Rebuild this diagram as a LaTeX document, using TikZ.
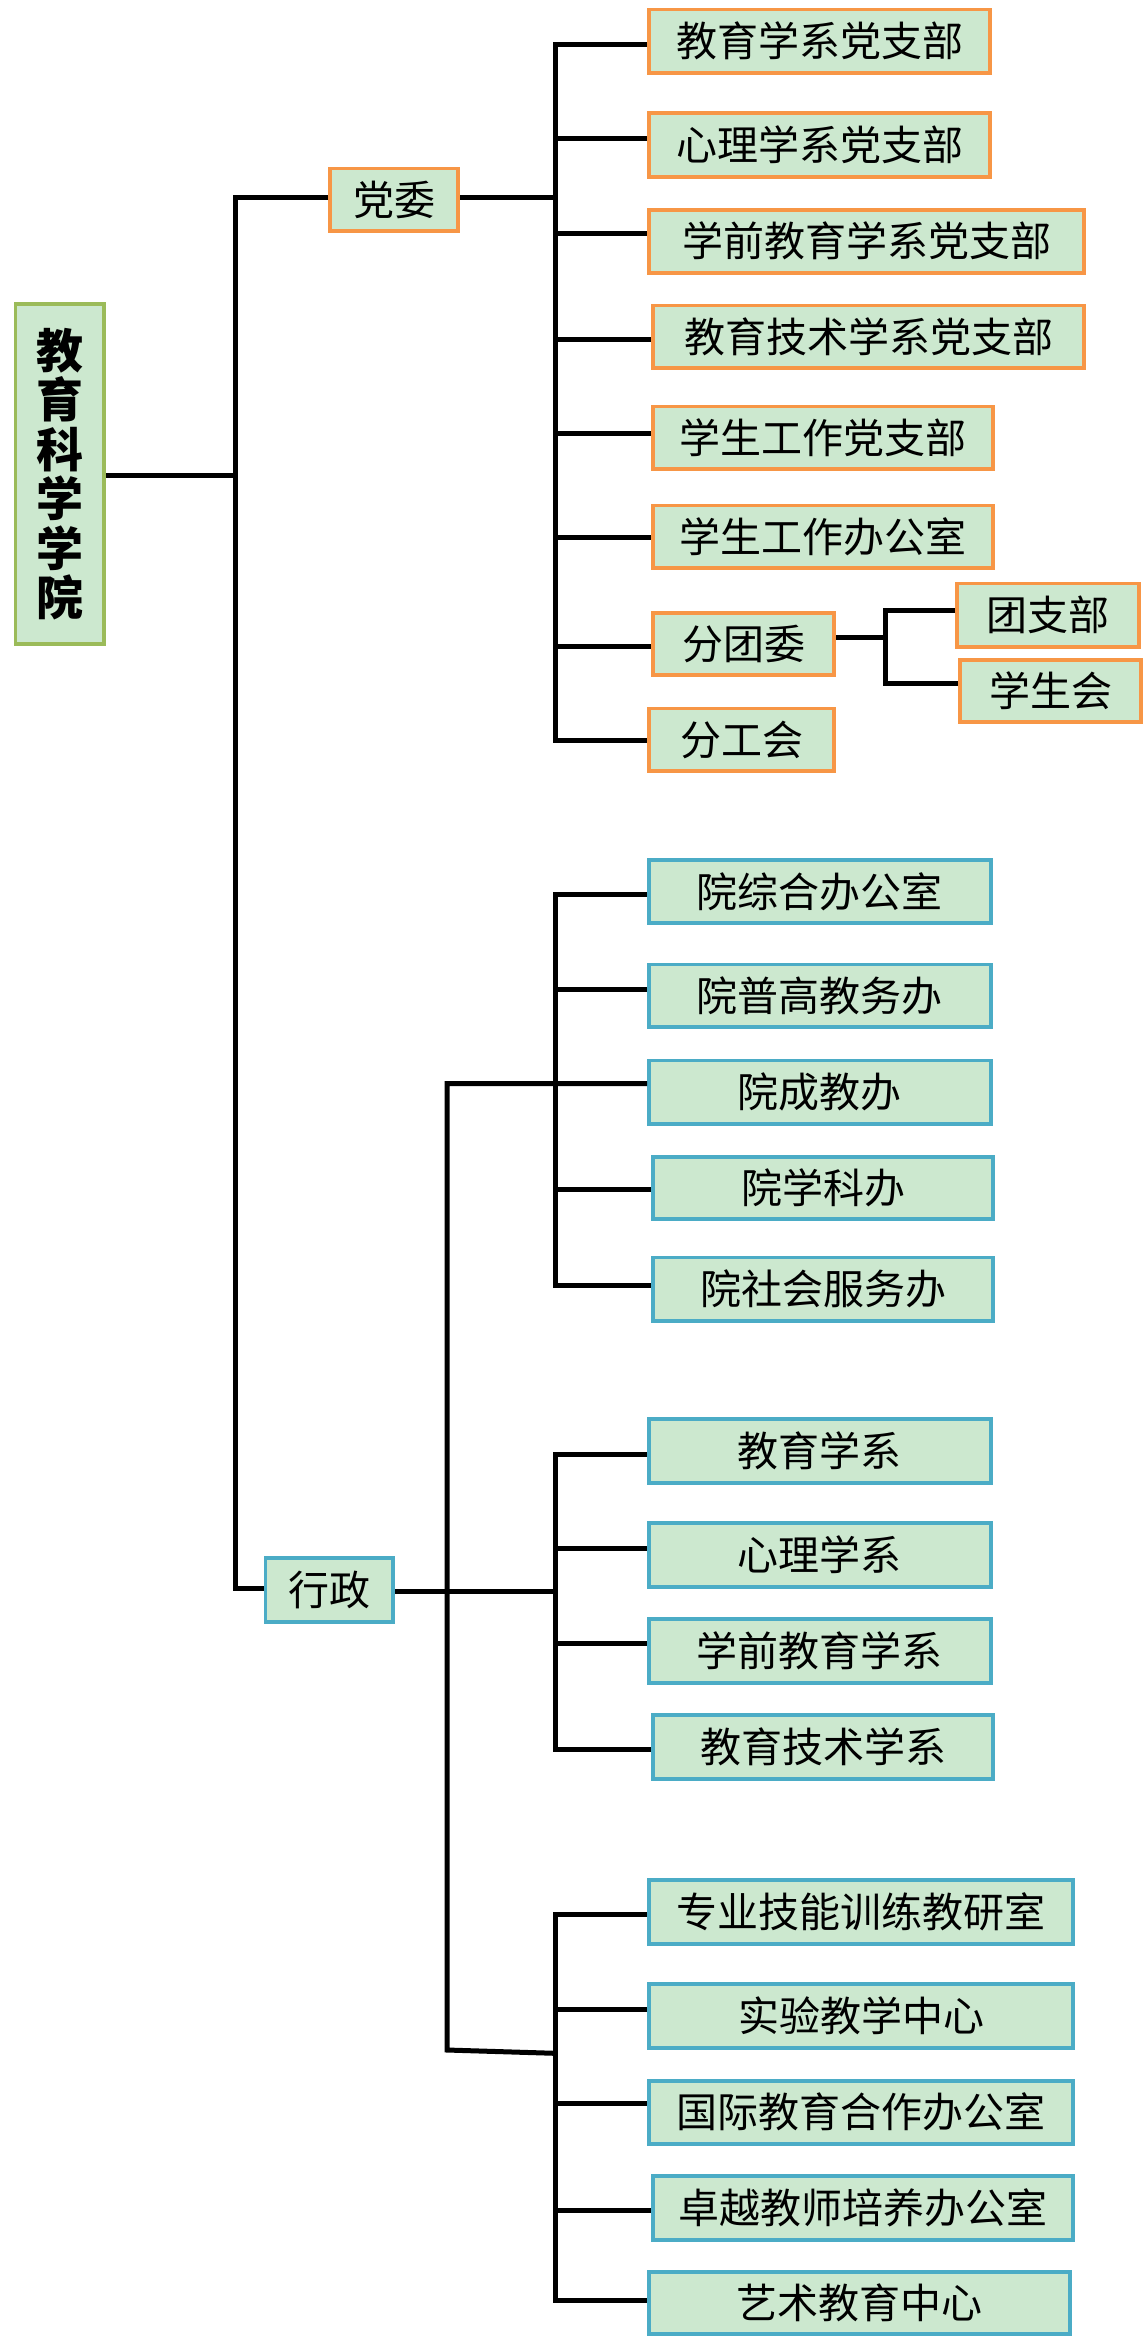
\documentclass[tikz,border=0pt]{standalone}
\usepackage{fontspec}
\newfontfamily\cjk{Noto Sans CJK SC}
\definecolor{boxfill}{RGB}{204,232,207}
\definecolor{orangeb}{RGB}{247,150,70}
\definecolor{blueb}{RGB}{75,172,198}
\definecolor{greenb}{RGB}{155,187,89}
\newcommand\orgbox[7]{\node[#2, minimum width={(#5-#3-3.8)*1pt}, minimum height={(#6-#4-3.8)*1pt}] (#1) at ({(#3+#5)/2},{(#4+#6)/2}) {#7};}
\begin{document}
\begin{tikzpicture}[x=1pt,y=-1pt,
  box/.style={fill=boxfill, inner sep=0pt, text=black, font=\cjk\fontsize{41}{41}\selectfont},
  pbox/.style={box, draw=orangeb, line width=3.8pt},
  abox/.style={box, draw=blueb, line width=3.8pt},
  rbox/.style={box, draw=greenb, line width=3.4pt, align=center, font=\cjk\bfseries\fontsize{47}{49.5}\selectfont},
  conn/.style={draw=black, line width=5pt}]
\useasboundingbox (0,0) rectangle (1144,2350);
% nodes
\orgbox{root}{rbox}{13.5}{302}{106}{646}{教\\育\\科\\学\\学\\院}
\orgbox{dw}{pbox}{328}{166.5}{460}{232.6}{党委}
\orgbox{p1}{pbox}{647}{7.6}{992}{74.5}{教育学系党支部}
\orgbox{p2}{pbox}{647}{111}{992}{178.6}{心理学系党支部}
\orgbox{p3}{pbox}{647}{208}{1086}{274.5}{学前教育学系党支部}
\orgbox{p4}{pbox}{651}{303.6}{1086}{370}{教育技术学系党支部}
\orgbox{p5}{pbox}{651}{404.6}{995}{471}{学生工作党支部}
\orgbox{p6}{pbox}{651}{503.6}{995}{570}{学生工作办公室}
\orgbox{p7}{pbox}{651}{610.7}{836}{676.5}{分团委}
\orgbox{p8}{pbox}{647}{706.6}{836}{773}{分工会}
\orgbox{s1}{pbox}{955}{581.6}{1141}{648.5}{团支部}
\orgbox{s2}{pbox}{958}{658}{1143}{723.5}{学生会}
\orgbox{xz}{abox}{263.5}{1555.7}{395}{1624}{行政}
\orgbox{a1}{abox}{647}{858}{992.5}{925}{院综合办公室}
\orgbox{a2}{abox}{647}{962.5}{992.5}{1029}{院普高教务办}
\orgbox{a3}{abox}{647}{1058.6}{992.5}{1125.7}{院成教办}
\orgbox{a4}{abox}{651}{1154.8}{995}{1221}{院学科办}
\orgbox{a5}{abox}{651}{1255.5}{995}{1323}{院社会服务办}
\orgbox{b1}{abox}{647}{1417}{992.5}{1485}{教育学系}
\orgbox{b2}{abox}{647}{1521.3}{992.5}{1589}{心理学系}
\orgbox{b3}{abox}{647}{1617}{992.5}{1684.7}{学前教育学系}
\orgbox{b4}{abox}{651}{1713}{995}{1781}{教育技术学系}
\orgbox{c1}{abox}{647}{1878.3}{1075}{1946}{专业技能训练教研室}
\orgbox{c2}{abox}{647}{1982.3}{1075}{2050}{实验教学中心}
\orgbox{c3}{abox}{647}{2078.7}{1075}{2145.7}{国际教育合作办公室}
\orgbox{c4}{abox}{651}{2174.3}{1075}{2241.7}{卓越教师培养办公室}
\orgbox{c5}{abox}{647}{2269.7}{1071.5}{2335.7}{艺术教育中心}
% coordinates
\coordinate (mt) at (235,0);
\coordinate (mtop) at (235,197);
\coordinate (mbot) at (235,1588.3);
\coordinate (pa1) at (555,44);
\coordinate (pa2) at (555,138);
\coordinate (pa3) at (555,233.6);
\coordinate (pa4) at (555,339);
\coordinate (pa5) at (555,433.7);
\coordinate (pa6) at (555,537);
\coordinate (pa7) at (555,646);
\coordinate (pa8) at (555,740);
\coordinate (pdw) at (555,197);
\coordinate (q) at (885,637);
\coordinate (qa) at (885,610.7);
\coordinate (qb) at (885,683.7);
\coordinate (xt) at (447,1083.5);
\coordinate (xb) at (447,2050);
\coordinate (aa1) at (555,894);
\coordinate (aa2) at (555,989);
\coordinate (aa3) at (555,1083.5);
\coordinate (aa4) at (555,1189.6);
\coordinate (aa5) at (555,1285);
\coordinate (bb1) at (555,1454);
\coordinate (bb2) at (555,1548.3);
\coordinate (bbx) at (555,1591);
\coordinate (bb3) at (555,1643.3);
\coordinate (bb4) at (555,1749);
\coordinate (cc1) at (555,1914);
\coordinate (cc2) at (555,2009);
\coordinate (ccx) at (555,2053.3);
\coordinate (cc3) at (555,2103.3);
\coordinate (cc4) at (555,2210);
\coordinate (cc5) at (555,2300);
% main trunk
\draw[conn] (root.east |- 0,475) -- (mt |- 0,475);
\draw[conn] (dw.west |- mtop) -- (mtop) -- (mbot) -- (mbot -| xz.west);
% party committee branch
\draw[conn] (dw.east |- pdw) -- (pdw);
\draw[conn] (pa1 -| p1.west) -- (pa1) -- (pa8) -- (pa8 -| p8.west);
\draw[conn] (pa2) -- (pa2 -| p2.west);
\draw[conn] (pa3) -- (pa3 -| p3.west);
\draw[conn] (pa4) -- (pa4 -| p4.west);
\draw[conn] (pa5) -- (pa5 -| p5.west);
\draw[conn] (pa6) -- (pa6 -| p6.west);
\draw[conn] (pa7) -- (pa7 -| p7.west);
\draw[conn] (p7.east |- q) -- (q);
\draw[conn] (qa -| s1.west) -- (qa) -- (qb) -- (qb -| s2.west);
% administration branch
\draw[conn] (xz.east |- bbx) -- (bbx);
\draw[conn] (xt -| a3.west) -- (xt) -- (xb) -- (ccx);
\draw[conn] (aa1 -| a1.west) -- (aa1) -- (aa5) -- (aa5 -| a5.west);
\draw[conn] (aa2) -- (aa2 -| a2.west);
\draw[conn] (aa4) -- (aa4 -| a4.west);
\draw[conn] (bb1 -| b1.west) -- (bb1) -- (bb4) -- (bb4 -| b4.west);
\draw[conn] (bb2) -- (bb2 -| b2.west);
\draw[conn] (bb3) -- (bb3 -| b3.west);
\draw[conn] (cc1 -| c1.west) -- (cc1) -- (cc5) -- (cc5 -| c5.west);
\draw[conn] (cc2) -- (cc2 -| c2.west);
\draw[conn] (cc3) -- (cc3 -| c3.west);
\draw[conn] (cc4) -- (cc4 -| c4.west);
\end{tikzpicture}
\end{document}
